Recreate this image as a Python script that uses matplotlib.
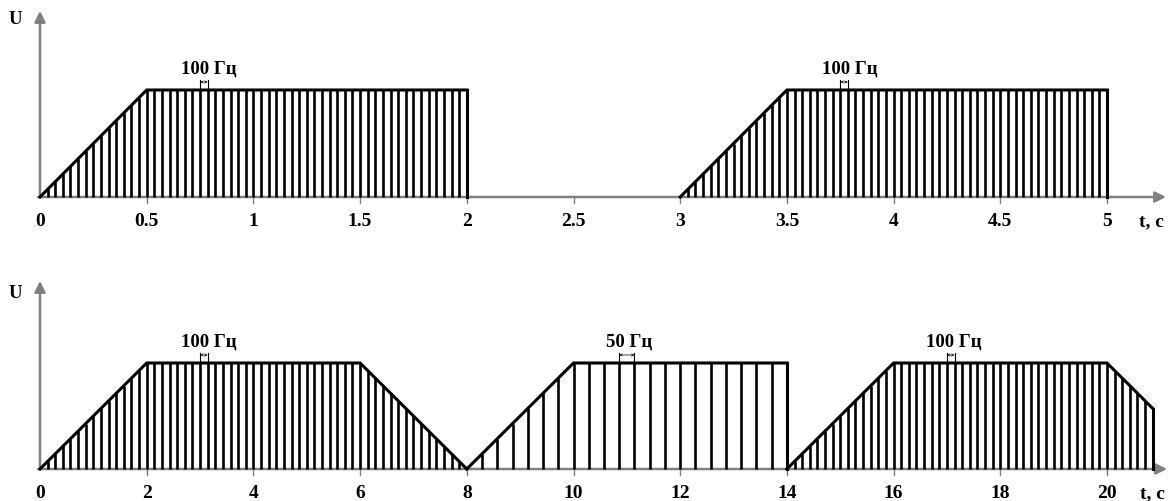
import numpy as np
import matplotlib
matplotlib.use("Agg")
import matplotlib.pyplot as plt

plt.rcParams['font.family'] = ['Liberation Serif', 'DejaVu Serif']

# ---------------- data ----------------
# top panel
top_groups_t = [[0, 0.5, 2], [3, 3.5, 5]]
top_groups_u = [[0, 1, 1], [0, 1, 1]]
top_groups_step = [1 / 28, 1 / 28]
top_ticks = [0, 0.5, 1, 1.5, 2, 2.5, 3, 3.5, 4, 4.5, 5]
top_tick_labels = ["0", "0.5", "1", "1.5", "2", "2.5", "3", "3.5", "4", "4.5", "5"]
top_freq_labels = ["100 Гц", "100 Гц"]
top_freq_marks = [(0.75, 0.5 + 8 / 28), (3.75, 3.5 + 8 / 28)]
top_freq_text_x = [0.792, 3.796]

# bottom panel
bot_groups_t = [[0, 2, 6, 8], [8, 10, 14], [14, 16, 20, 20.86]]
bot_groups_u = [[0, 1, 1, 0], [0, 1, 1], [0, 1, 1, 0.57]]
bot_groups_step = [1 / 7, 2 / 7, 1 / 7]
bot_ticks = [0, 2, 4, 6, 8, 10, 12, 14, 16, 18, 20]
bot_tick_labels = ["0", "2", "4", "6", "8", "10", "12", "14", "16", "18", "20"]
bot_freq_labels = ["100 Гц", "50 Гц", "100 Гц"]
bot_freq_marks = [(3.0, 3.0 + 1 / 7), (10 + 6 / 7, 10 + 8 / 7), (17.0, 17 + 1 / 7)]
bot_freq_text_x = [3.16, 11.05, 17.12]

AX_COLOR = "#808080"
FS_TICK = 14
FS_LAB = 13.5


def draw_panel(ax, groups_t, groups_u, steps, ticks, tick_labels,
               freq_labels, freq_marks, freq_text_x, x_tip, y_tip, px_x, px_y):
    ax.set_axis_off()
    # axes with arrows
    ax.annotate("", xy=(x_tip, 0), xytext=(-2 * px_x, 0),
                arrowprops=dict(arrowstyle="-|>", color=AX_COLOR, lw=1.8,
                                mutation_scale=16, shrinkA=0, shrinkB=0), zorder=1)
    ax.annotate("", xy=(0, y_tip), xytext=(0, 0),
                arrowprops=dict(arrowstyle="-|>", color=AX_COLOR, lw=1.8,
                                mutation_scale=16, shrinkA=0, shrinkB=0), zorder=1)
    # ticks
    for tk in ticks[1:]:
        ax.plot([tk, tk], [0, -6 * px_y], color=AX_COLOR, lw=1.0, zorder=1)
    for tk, lab in zip(ticks, tick_labels):
        ax.text(tk, -24 * px_y, lab, ha="center", va="center",
                fontsize=FS_TICK, fontweight="bold")
    # pulses
    for gt, gu, st in zip(groups_t, groups_u, steps):
        gt = np.asarray(gt, float)
        gu = np.asarray(gu, float)
        n = int(np.floor((gt[-1] - gt[0]) / st + 1e-6))
        xs = gt[0] + st * np.arange(1, n + 1)
        hs = np.interp(xs, gt, gu)
        ax.vlines(xs, 0, hs, color="black", lw=1.9, zorder=3)
        ax.plot(gt, gu, color="black", lw=2.2, zorder=4, solid_joinstyle="miter")
        if gu[-1] > 0:
            ax.plot([gt[-1], gt[-1]], [0, gu[-1]], color="black", lw=2.2, zorder=4)
    # frequency marks
    for lab, (a, b), tx in zip(freq_labels, freq_marks, freq_text_x):
        ax.plot([a, a], [1, 1 + 10 * px_y], color="black", lw=0.8, zorder=4)
        ax.plot([b, b], [1, 1 + 10 * px_y], color="black", lw=0.8, zorder=4)
        ax.annotate("", xy=(a, 1 + 8 * px_y), xytext=(b, 1 + 8 * px_y),
                    arrowprops=dict(arrowstyle="<->", color="black", lw=0.5,
                                    mutation_scale=4, shrinkA=0, shrinkB=0))
        ax.text(tx, 1 + 22 * px_y, lab, ha="center", va="center",
                fontsize=FS_LAB, fontweight="bold")


fig = plt.figure(figsize=(11.74, 5.02), dpi=100)

# top panel: pixels x = 40 + 213.4*t ; y axis at 198px, U=1 at 91px
ax1 = fig.add_axes([0, 251 / 502, 1, 251 / 502])
sx1, sy1 = 213.4, 107.0
ax1.set_xlim(-40 / sx1, (1174 - 40) / sx1)
ax1.set_ylim(-(251 - 198) / sy1, 198 / sy1)
draw_panel(ax1, top_groups_t, top_groups_u, top_groups_step, top_ticks,
           top_tick_labels, top_freq_labels, top_freq_marks, top_freq_text_x,
           x_tip=(1166 - 40) / sx1, y_tip=(198 - 12) / sy1, px_x=1 / sx1, px_y=1 / sy1)
ax1.text(-25 / sx1, (198 - 19) / sy1, "U", ha="center", va="center",
         fontsize=FS_LAB, fontweight="bold")
ax1.text((1151 - 40) / sx1, -24 / sy1, "t, c", ha="center", va="center",
         fontsize=FS_TICK, fontweight="bold")

# bottom panel: pixels x = 40 + 53.35*t ; y axis at 470px, U=1 at 364px
ax2 = fig.add_axes([0, 0, 1, 251 / 502])
sx2, sy2 = 53.35, 106.0
ax2.set_xlim(-40 / sx2, (1174 - 40) / sx2)
ax2.set_ylim(-(502 - 470) / sy2, (470 - 251) / sy2)
draw_panel(ax2, bot_groups_t, bot_groups_u, bot_groups_step, bot_ticks,
           bot_tick_labels, bot_freq_labels, bot_freq_marks, bot_freq_text_x,
           x_tip=(1167 - 40) / sx2, y_tip=(470 - 282) / sy2, px_x=1 / sx2, px_y=1 / sy2)
ax2.text(-25 / sx2, (470 - 294) / sy2, "U", ha="center", va="center",
         fontsize=FS_LAB, fontweight="bold")
ax2.text((1152 - 40) / sx2, -24 / sy2, "t, c", ha="center", va="center",
         fontsize=FS_TICK, fontweight="bold")

fig.savefig("out.png", dpi=100, facecolor="white")
